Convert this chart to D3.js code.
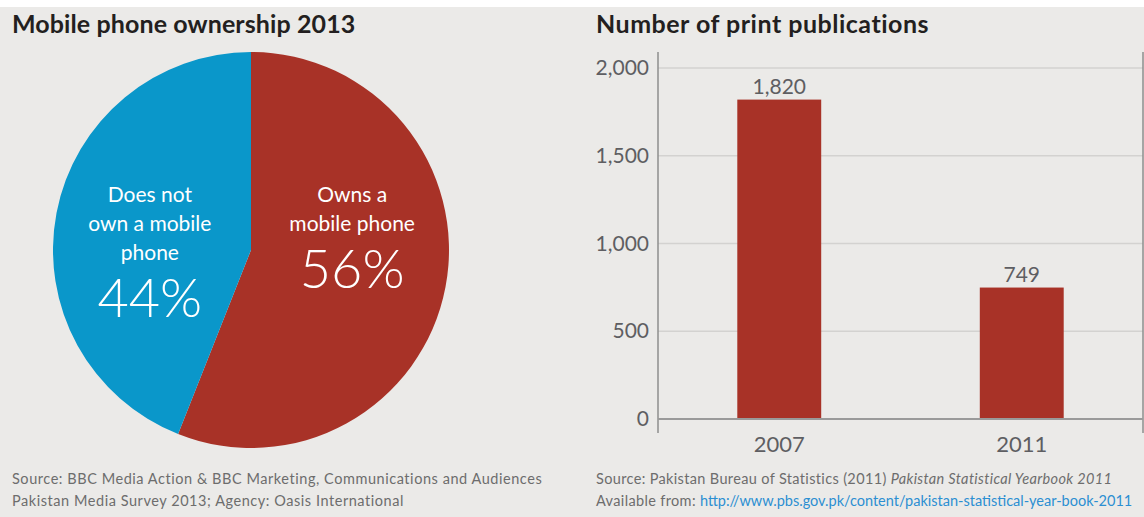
<!DOCTYPE html>
<html>
<head>
<meta charset="utf-8">
<script src="https://cdn.jsdelivr.net/npm/d3@7"></script>
<style>
  body { margin: 0; background: #ffffff; }
  svg { display: block; }
  text { font-family: "Lato", "Open Sans", sans-serif; }
</style>
</head>
<body>
<svg id="chart" width="1144" height="517"></svg>
<script>
// ---- data ----
const ownershipLabels = ["Owns a mobile phone", "Does not own a mobile phone"];
const ownershipShares = [56, 44];
const ownershipLines = [["Owns a", "mobile phone"], ["Does not", "own a mobile", "phone"]];
const ownershipColors = ["#a83227", "#0a97ca"];

const years = ["2007", "2011"];
const publications = [1820, 749];
const yTicks = [0, 500, 1000, 1500, 2000];

const titles = ["Mobile phone ownership 2013", "Number of print publications"];
const leftSource = [
  "Source: BBC Media Action & BBC Marketing, Communications and Audiences",
  "Pakistan Media Survey 2013; Agency: Oasis International"
];
const rightSourceLine1 = ["Source: Pakistan Bureau of Statistics (2011) ", "Pakistan Statistical Yearbook 2011"];
const rightSourceLine2 = ["Available from: ", "http://www.pbs.gov.pk/content/pakistan-statistical-year-book-2011"];

// ---- canvas ----
const W = 1144, H = 517;
const svg = d3.select("#chart");
svg.append("rect").attr("x", 0).attr("y", 7).attr("width", W).attr("height", H - 7).attr("fill", "#ebeae8");

// titles
svg.selectAll("text.title").data(titles).join("text")
  .attr("class", "title")
  .attr("x", (d, i) => i === 0 ? 12 : 596)
  .attr("y", 33)
  .attr("font-size", 25)
  .attr("letter-spacing", (d, i) => i === 0 ? 0.1 : 0.5)
  .attr("font-weight", 700)
  .attr("fill", "#231f20")
  .text(d => d);

// ---- pie ----
const cx = 251, cy = 250, R = 198;
const pie = d3.pie().sort(null).value(d => d);
const arcs = pie(ownershipShares);
const arc = d3.arc().innerRadius(0).outerRadius(R);
const labelArc = d3.arc().innerRadius(103).outerRadius(103);

const pieG = svg.append("g").attr("transform", `translate(${cx},${cy})`);
pieG.selectAll("path").data(arcs).join("path")
  .attr("d", arc)
  .attr("fill", (d, i) => ownershipColors[i]);

const labelG = pieG.selectAll("g.lbl").data(arcs).join("g").attr("class", "lbl");
labelG.each(function (d, i) {
  const g = d3.select(this);
  const lx = labelArc.centroid(d)[0];
  const lines = ownershipLines[i];
  const top = -48;
  lines.forEach((ln, k) => {
    g.append("text")
      .attr("x", lx).attr("y", top + k * 29)
      .attr("text-anchor", "middle")
      .attr("font-size", 21)
      .attr("fill", "#ffffff")
      .text(ln);
  });
  g.append("text")
    .attr("x", lx).attr("y", top + (lines.length - 1) * 29 + 57)
    .attr("text-anchor", "middle")
    .attr("font-size", 54)
    .attr("font-weight", 300)
    .attr("fill", "#ffffff")
    .text(ownershipShares[i] + "%");
});

// ---- bar chart ----
const x0 = 658, x1 = 1143, yTop = 52, yBottom = 433;
const x = d3.scaleBand().domain(years).range([x0, x1]).paddingInner(0.654).paddingOuter(0.327);
const y = d3.scaleLinear().domain([0, 2000]).range([419, 68]);

const barG = svg.append("g");
// gridlines
barG.selectAll("line.grid").data(yTicks.filter(t => t > 0)).join("line")
  .attr("class", "grid")
  .attr("x1", x0).attr("x2", x1)
  .attr("y1", d => y(d)).attr("y2", d => y(d))
  .attr("stroke", "#d3d2d0").attr("stroke-width", 1.5);

// y axis labels
const yAxis = d3.axisLeft(y).tickValues(yTicks).tickSize(0).tickPadding(9).tickFormat(d3.format(","));
const yAxisG = barG.append("g").attr("transform", `translate(${x0},0)`).call(yAxis);
yAxisG.select(".domain").remove();
yAxisG.selectAll("text")
  .attr("font-size", 21)
  .attr("fill", "#5e5e62")
  .attr("font-family", "Lato, 'Open Sans', sans-serif");

// bars
barG.selectAll("rect.bar").data(publications).join("rect")
  .attr("class", "bar")
  .attr("x", (d, i) => x(years[i]))
  .attr("width", x.bandwidth())
  .attr("y", d => y(d))
  .attr("height", d => y(0) - y(d))
  .attr("fill", "#a83227");

// value labels
barG.selectAll("text.val").data(publications).join("text")
  .attr("class", "val")
  .attr("x", (d, i) => x(years[i]) + x.bandwidth() / 2)
  .attr("y", d => y(d) - 6)
  .attr("text-anchor", "middle")
  .attr("font-size", 21)
  .attr("fill", "#5e5e62")
  .text(d => d3.format(",")(d));

// frame lines
barG.append("line").attr("x1", x0).attr("x2", x0).attr("y1", yTop).attr("y2", yBottom)
  .attr("stroke", "#8e8e8e").attr("stroke-width", 1.5);
barG.append("line").attr("x1", x1).attr("x2", x1).attr("y1", yTop).attr("y2", yBottom)
  .attr("stroke", "#8e8e8e").attr("stroke-width", 1.5);
barG.append("line").attr("x1", x0).attr("x2", x1).attr("y1", y(0)).attr("y2", y(0))
  .attr("stroke", "#9a9a9a").attr("stroke-width", 2);

// x labels
barG.selectAll("text.xl").data(years).join("text")
  .attr("class", "xl")
  .attr("x", d => x(d) + x.bandwidth() / 2)
  .attr("y", 452)
  .attr("text-anchor", "middle")
  .attr("font-size", 22)
  .attr("fill", "#5e5e62")
  .text(d => d);

// ---- sources ----
const srcG = svg.append("g").attr("font-size", 14.5).attr("fill", "#6d6d6d");
leftSource.forEach((s, i) => {
  srcG.append("text").attr("x", 12).attr("y", 484 + i * 22).attr("letter-spacing", 0.55).text(s);
});
const r1 = srcG.append("text").attr("x", 596).attr("y", 484).attr("letter-spacing", 0.35);
r1.append("tspan").text(rightSourceLine1[0]);
r1.append("tspan").attr("font-style", "italic").text(rightSourceLine1[1]);
const r2 = srcG.append("text").attr("x", 596).attr("y", 506).attr("letter-spacing", 0.35);
r2.append("tspan").text(rightSourceLine2[0]);
r2.append("tspan").attr("fill", "#2b8fd2").attr("letter-spacing", 0).text(rightSourceLine2[1]);
</script>
</body>
</html>
